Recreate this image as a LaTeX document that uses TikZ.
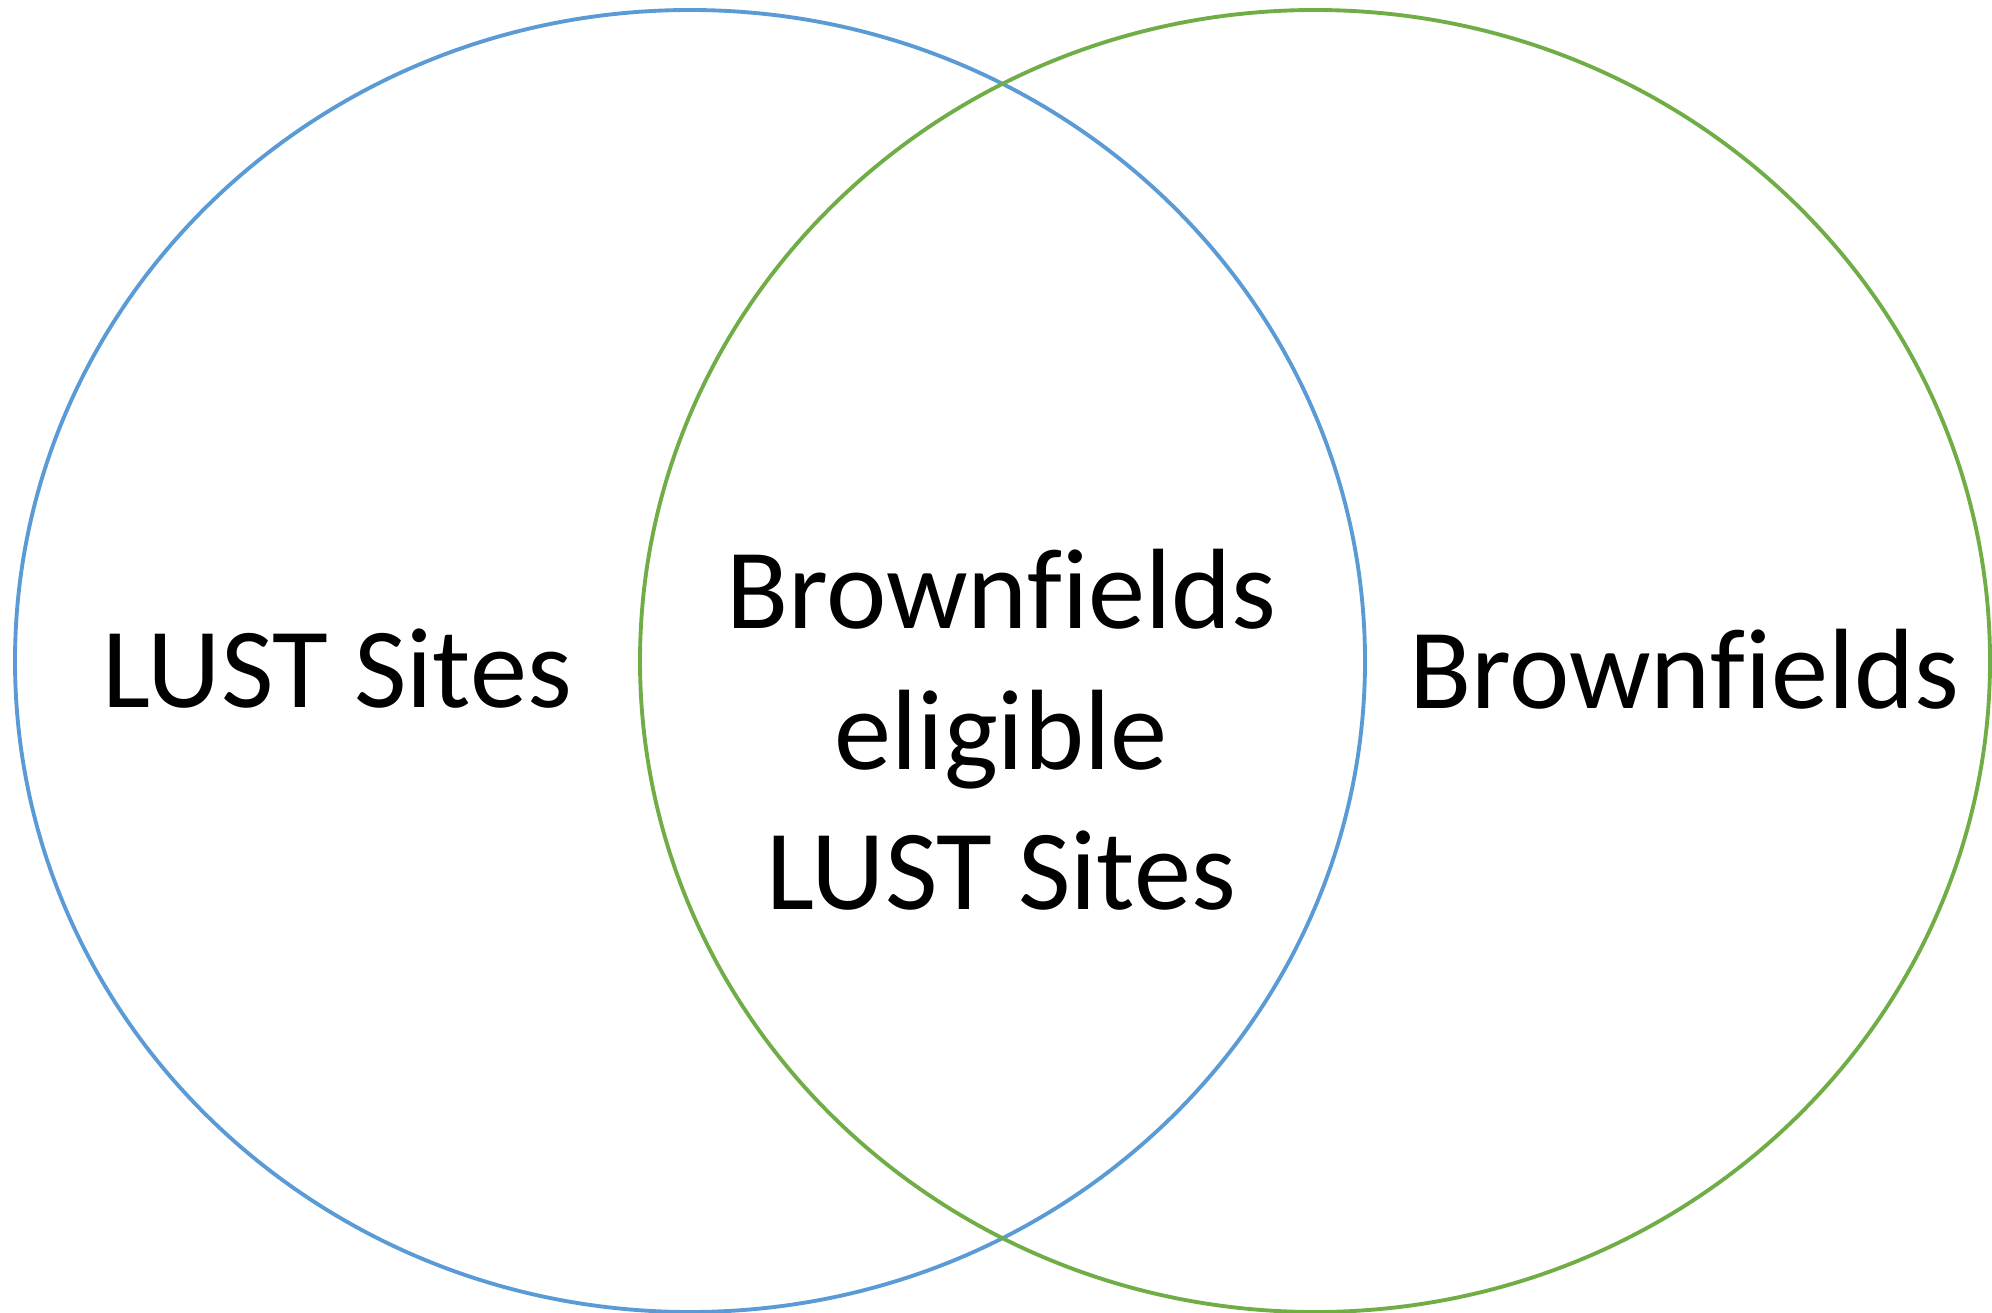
\documentclass[tikz,border=0pt]{standalone}
\usepackage{fontspec}
\setmainfont[RawFeature={-liga}]{Carlito}
\usepackage{xcolor}
\usetikzlibrary{positioning}
\definecolor{lustblue}{RGB}{91,155,213}
\definecolor{bfgreen}{RGB}{112,173,71}

\begin{document}
\begin{tikzpicture}[x=0.01cm,y=-0.01cm,
    setlabel/.style={font=\fontsize{32.5}{40}\selectfont, align=center, inner sep=0pt}]
      \useasboundingbox (0,0) rectangle (1992,1313);
      \draw[lustblue, line width=1.1pt] (690,661) ellipse[x radius=675, y radius=651];
      \draw[bfgreen, line width=1.1pt] (1315,661) ellipse[x radius=675, y radius=651];
      \node[setlabel] (lust) at (337,669) {LUST Sites};
      \node[setlabel] (both) at (1001,730) {Brownfields\\eligible\\LUST Sites};
      \node[setlabel] (brown) at (1684,669) {Brownfields};
    \end{tikzpicture}
\end{document}
